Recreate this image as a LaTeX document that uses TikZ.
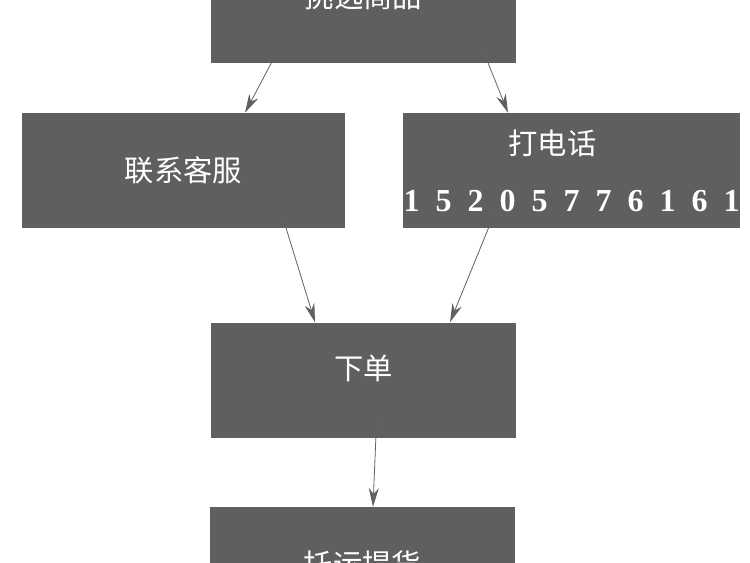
\documentclass[tikz,border=0pt]{standalone}
\usepackage{fontspec}
\setmainfont{Liberation Serif}
\newfontfamily\cjk{Noto Sans CJK SC}
\newfontfamily\numfont[WordSpace=2]{Liberation Serif}
\usetikzlibrary{arrows.meta,positioning,calc}
\definecolor{boxgray}{RGB}{95,95,95}
\definecolor{linegray}{RGB}{96,96,96}
\tikzset{
  stepbox/.style={fill=boxgray, text=white, minimum height=86.25pt, inner sep=0pt, align=center, font=\cjk\fontsize{22}{26}\selectfont},
  textup/.style={text depth=#1},
  textup/.default=19pt,
  flowarrow/.style={-{Stealth[length=14pt, width=7.5pt, inset=4.5pt]}, draw=linegray, line width=0.6pt}
}

\begin{document}
\begin{tikzpicture}[x=0.75pt, y=-0.75pt]
\useasboundingbox (0,0) rectangle (750,562);
\clip (0,0) rectangle (750,562);
% boxes
\node[stepbox, textup=15pt, minimum width=228.75pt] (pick) at (363.5,5.5) {挑选商品};
\node[stepbox, minimum width=242.25pt] (kefu) at (183.5,170.5) {联系客服};
\node[stepbox, minimum width=252.75pt, font=\cjk\fontsize{22}{43}\selectfont] (phone) at (571.5,170.5)
  {打电话\hspace*{28.5pt}\\{\numfont\bfseries\fontsize{24}{43}\selectfont 1 5 2 0 5 7 7 6 1 6 1}};
\node[stepbox, textup, minimum width=228.75pt] (order) at (363.5,380) {下单};
\node[stepbox, minimum width=228.75pt] (ship) at (362.5,564.5) {托运提货};
% arrows
\draw[flowarrow] ($(pick.south)+(-85.5,-13)$) -- ($(kefu.north)+(61.5,0)$);
\draw[flowarrow] ($(pick.south)+(119.5,-13)$) -- ($(phone.north)+(-63.5,0)$);
\draw[flowarrow] ($(kefu.south)+(96.5,-20)$) -- ($(order.north)+(-48.5,0)$);
\draw[flowarrow] ($(phone.south)+(-74.5,-21)$) -- ($(order.north)+(86.5,0)$);
\draw[flowarrow] ($(order.south)+(13.5,-27)$) -- ($(ship.north)+(10.5,0)$);
\end{tikzpicture}
\end{document}
